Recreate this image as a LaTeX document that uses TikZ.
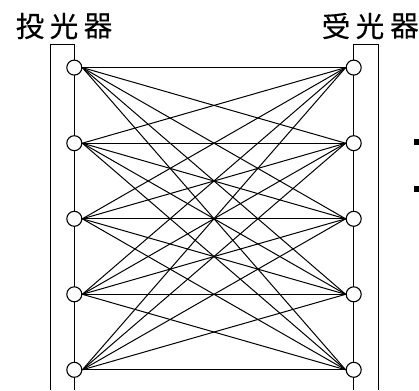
\documentclass[tikz,border=0pt]{standalone}
\usepackage{fontspec}
\newfontfamily\cjk[FakeBold=0.25]{Noto Sans CJK JP}
\tikzset{
  sensor/.style={circle,draw,fill=white,line width=1.1pt,minimum size=15pt,inner sep=0pt},
  rail/.style={line width=1.1pt},
  beam/.style={line width=1pt},
  title/.style={font=\cjk\fontsize{28.5}{28.5}\selectfont,inner sep=0pt},
  tick/.style={fill=black,inner sep=0pt,minimum width=5pt,minimum height=5.5pt}
}
\begin{document}
\begin{tikzpicture}[x=1pt,y=-1pt]
\useasboundingbox (0,0) rectangle (419,390);
\coordinate (lb) at (50.4,390);
\coordinate (lt) at (50.4,44.3);
\coordinate (lu) at (74.3,44.3);
\coordinate (ld) at (74.3,390);
\coordinate (rb) at (378.7,390);
\coordinate (rt) at (378.7,44.3);
\coordinate (ru) at (353.7,44.3);
\coordinate (rd) at (353.7,390);
\draw[rail] (lb) -- (lt) -- (lu) -- (ld);
\draw[rail] (rb) -- (rt) -- (ru) -- (rd);
\foreach \i/\y in {1/67.6,2/143.2,3/218.8,4/294.3,5/369.8}{
  \node[sensor] (L\i) at (74.3,\y) {};
  \node[sensor] (R\i) at (353.7,\y) {};
}
\foreach \i in {1,...,5}{
  \foreach \j in {1,...,5}{
    \draw[beam] (L\i.east) -- (R\j.west);
  }
}
\node[title] (t1a) at (30,26) {投};
\node[title] (t1b) at (64,26) {光};
\node[title] (t1c) at (98,26) {器};
\node[title] (t2a) at (336,26) {受};
\node[title] (t2b) at (370,26) {光};
\node[title] (t2c) at (404.5,26) {器};
\node[tick] (m1) at (416.6,142) {};
\node[tick] (m2) at (416.6,189) {};
\end{tikzpicture}
\end{document}
